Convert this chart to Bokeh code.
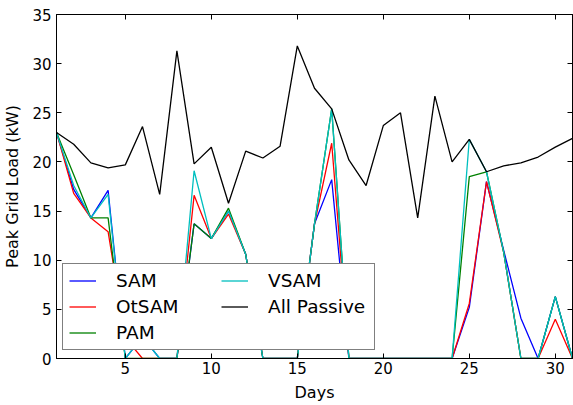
from bokeh.plotting import figure
from bokeh.models import Legend, LegendItem, LinearAxis, FixedTicker, Range1d
from bokeh.embed import file_html
from bokeh.resources import INLINE

days = list(range(1, 32))

sam = [23.0, 17.2, 14.3, 17.1, 0.0, 2.2, 0.0, 0.0, 13.7, 12.2, 15.0, 10.6, 0.0, 0.0, 0.0, 13.7,
       18.2, 0.0, 0.0, 0.0, 0.0, 0.0, 0.0, 0.0, 5.2, 18.0, 11.0, 4.1, 0.0, 6.3, 0.0]
otsam = [23.0, 16.8, 14.3, 12.9, 2.1, 0.0, 0.0, 0.0, 16.6, 12.2, 14.7, 10.6, 0.0, 0.0, 0.0, 13.7,
         21.9, 0.0, 0.0, 0.0, 0.0, 0.0, 0.0, 0.0, 5.6, 18.0, 10.8, 0.0, 0.0, 4.0, 0.0]
pam = [23.0, 18.7, 14.3, 14.3, 0.0, 0.0, 0.0, 0.0, 13.7, 12.2, 15.3, 10.6, 0.0, 0.0, 0.0, 13.7,
       25.4, 0.0, 0.0, 0.0, 0.0, 0.0, 0.0, 0.0, 18.5, 19.0, 10.8, 0.0, 0.0, 6.3, 0.0]
vsam = [23.0, 17.6, 14.3, 16.7, 0.0, 2.2, 0.0, 0.0, 19.1, 12.2, 15.0, 10.6, 0.0, 0.0, 0.0, 13.7,
        25.4, 0.0, 0.0, 0.0, 0.0, 0.0, 0.0, 0.0, 22.3, 19.0, 10.8, 0.0, 0.0, 6.3, 0.0]
all_passive = [23.0, 21.8, 19.9, 19.4, 19.7, 23.6, 16.7, 31.3, 19.8, 21.5, 15.8, 21.1, 20.4, 21.6,
               31.8, 27.5, 25.4, 20.2, 17.6, 23.7, 25.0, 14.3, 26.7, 20.0, 22.3, 19.0, 19.6, 19.9,
               20.5, 21.5, 22.4]

series_names = ["SAM", "OtSAM", "PAM", "VSAM", "All Passive"]
series_values = [sam, otsam, pam, vsam, all_passive]
series_colors = ["#0000ff", "#ff0000", "#008000", "#00bfbf", "#000000"]

x_ticks = [5, 10, 15, 20, 25, 30]
y_ticks = [0, 5, 10, 15, 20, 25, 30, 35]

FONT = "DejaVu Sans"

p = figure(width=573, height=405, x_range=Range1d(1, 31), y_range=Range1d(0, 35),
           output_backend="svg", toolbar_location=None,
           min_border_left=55, min_border_right=1, min_border_top=14, min_border_bottom=47,
           x_axis_label="Days", y_axis_label="Peak Grid Load (kW)")
p.xgrid.visible = False
p.ygrid.visible = False
p.outline_line_color = "black"
p.outline_line_width = 1
p.background_fill_color = "white"
p.border_fill_color = "white"

for ax, ticks in ((p.xaxis[0], x_ticks), (p.yaxis[0], y_ticks)):
    ax.ticker = FixedTicker(ticks=ticks)
    ax.major_tick_in = 5
    ax.major_tick_out = 0
    ax.minor_tick_line_color = None
    ax.axis_line_color = "black"
    ax.major_label_text_font = FONT
    ax.major_label_text_font_size = "15px"
    ax.major_label_text_color = "black"
    ax.axis_label_text_font = FONT
    ax.axis_label_text_font_size = "16px"
    ax.axis_label_text_font_style = "normal"
    ax.axis_label_text_color = "black"

p.xaxis[0].major_label_standoff = 3
p.xaxis[0].axis_label_standoff = 6
p.yaxis[0].major_label_standoff = 5
p.yaxis[0].axis_label_standoff = 7

top = LinearAxis(ticker=FixedTicker(ticks=x_ticks), major_tick_in=5, major_tick_out=0,
                 minor_tick_line_color=None, axis_line_color="black",
                 major_label_overrides={t: "" for t in x_ticks}, major_label_standoff=0)
right = LinearAxis(ticker=FixedTicker(ticks=y_ticks), major_tick_in=5, major_tick_out=0,
                   minor_tick_line_color=None, axis_line_color="black",
                   major_label_overrides={t: "" for t in y_ticks}, major_label_standoff=0)
p.add_layout(top, "above")
p.add_layout(right, "right")

items = []
for name, vals, col in zip(series_names, series_values, series_colors):
    r = p.line(days, vals, line_color=col, line_width=1.3)
    items.append(LegendItem(label=name, renderers=[r]))

legend = Legend(items=items, location=(6, 8), nrows=3, orientation="vertical",
                label_text_font=FONT, label_text_font_size="18.5px", label_text_color="black",
                glyph_width=27, glyph_height=21, label_height=21, label_width=100,
                label_standoff=20, spacing=5, padding=6, margin=0,
                border_line_color="black", border_line_width=1.5,
                background_fill_color="white", background_fill_alpha=1.0)
p.add_layout(legend, "center")

open("out.html", "w").write(file_html(p, INLINE))
